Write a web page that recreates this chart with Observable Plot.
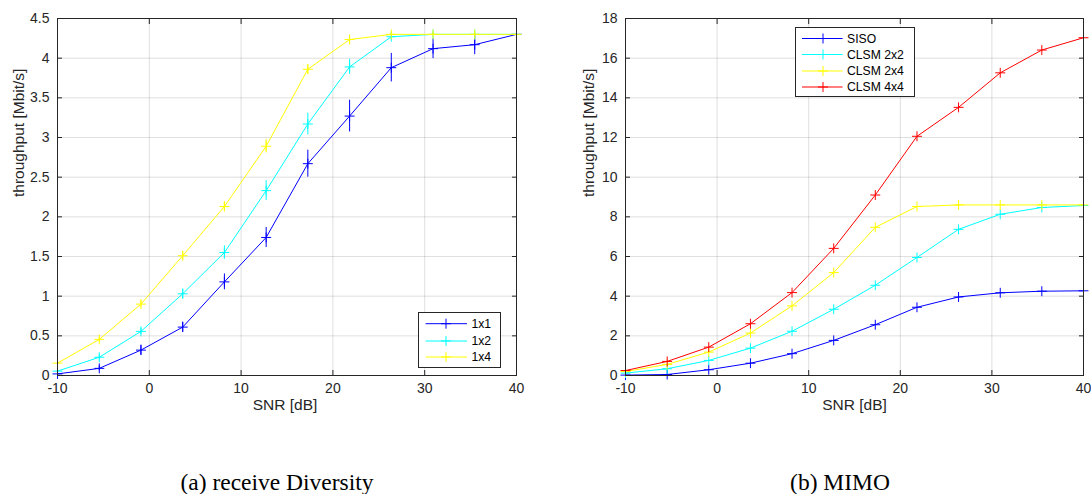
<!DOCTYPE html>
<html><head><meta charset="utf-8">
<script src="https://cdn.jsdelivr.net/npm/d3@7"></script>
<script src="https://cdn.jsdelivr.net/npm/@observablehq/plot@0.6"></script>
<style>
body{margin:0;background:#fff;}
#wrap{position:relative;width:1091px;height:494px;overflow:hidden;background:#fff;}
.panel{position:absolute;top:0;}
.legend{position:absolute;overflow:visible;}
.cap{position:absolute;font-family:"Liberation Serif","Times New Roman",serif;font-size:23.5px;color:#000;white-space:nowrap;transform:translate(-50%,-50%);}
</style></head><body>
<div id="wrap"></div>
<script>
// ---------- data ----------
const snr = [-10, -5.45, -0.91, 3.64, 8.18, 12.73, 17.27, 21.82, 26.36, 30.91, 35.45, 40];

// (a) receive diversity: mean throughput [Mbit/s] and error half-widths
const div1x1 = [0.02, 0.09, 0.32, 0.61, 1.18, 1.74, 2.67, 3.27, 3.88, 4.12, 4.17, 4.30];
const div1x2 = [0.055, 0.23, 0.556, 1.03, 1.55, 2.33, 3.17, 3.89, 4.27, 4.30, 4.30, 4.30];
const div1x4 = [0.156, 0.455, 0.90, 1.51, 2.13, 2.89, 3.86, 4.235, 4.30, 4.30, 4.30, 4.30];
const err1x1 = [0.03, 0.03, 0.063, 0.063, 0.10, 0.126, 0.17, 0.20, 0.18, 0.126, 0.126, 0.02];
const err1x2 = [0.02, 0.03, 0.04, 0.06, 0.085, 0.126, 0.137, 0.095, 0.04, 0.02, 0.02, 0.02];
const err1x4 = [0.02, 0.03, 0.04, 0.05, 0.06, 0.085, 0.06, 0.03, 0.02, 0.02, 0.02, 0.02];
const divNames = ["1x1", "1x2", "1x4"];

// (b) MIMO
const siso   = [0.02, 0.05, 0.29, 0.62, 1.10, 1.77, 2.56, 3.44, 3.96, 4.17, 4.25, 4.27];
const clsm22 = [0.12, 0.34, 0.76, 1.38, 2.23, 3.34, 4.55, 5.95, 7.37, 8.13, 8.47, 8.57];
const clsm24 = [0.20, 0.56, 1.18, 2.14, 3.51, 5.19, 7.47, 8.52, 8.60, 8.60, 8.60, 8.60];
const clsm44 = [0.25, 0.71, 1.43, 2.61, 4.18, 6.41, 9.10, 12.06, 13.52, 15.26, 16.41, 17.03];
const mimoNames = ["SISO", "CLSM 2x2", "CLSM 2x4", "CLSM 4x4"];

const colors4 = ["#0000ff", "#00ffff", "#ffff00", "#ff0000"];
const xTicks = [-10, 0, 10, 20, 30, 40];
const yTicksA = [0, 0.5, 1, 1.5, 2, 2.5, 3, 3.5, 4, 4.5];
const yTicksB = [0, 2, 4, 6, 8, 10, 12, 14, 16, 18];
const xLabel = "SNR [dB]";
const yLabel = "throughput [Mbit/s]";
const captions = ["(a) receive Diversity", "(b) MIMO"];

// ---------- drawing ----------
const INK = "#262626";
function rowsOf(ys, es) { return snr.map((x, i) => ({x, y: ys[i], e: es ? es[i] : 0})); }

function panel({width, marginLeft, marginRight, yDomain, yTicks, series, ylabDx, xlabDx}) {
  const marks = [
    Plot.gridX(xTicks, {stroke: INK, strokeOpacity: 0.15}),
    Plot.gridY(yTicks, {stroke: INK, strokeOpacity: 0.15}),
  ];
  for (const s of series) {
    const rows = rowsOf(s.values, s.errors);
    if (s.errors) marks.push(Plot.ruleX(rows, {x: "x", y1: d => d.y - d.e, y2: d => d.y + d.e, stroke: s.color, strokeWidth: 1}));
    marks.push(Plot.line(rows, {x: "x", y: "y", stroke: s.color, strokeWidth: 1}));
    marks.push(Plot.dot(rows, {x: "x", y: "y", symbol: "plus", r: 3.3, stroke: s.color, fill: "none", strokeWidth: 1}));
  }
  marks.push(
    Plot.frame({stroke: INK, strokeWidth: 1}),
    Plot.axisX(xTicks, {anchor: "bottom", tickSize: -5, tickPadding: 13, label: null, tickFormat: d => String(d), stroke: INK, fill: INK}),
    Plot.axisX(xTicks, {anchor: "top", tickSize: -5, label: null, tickFormat: () => "", stroke: INK}),
    Plot.axisY(yTicks, {anchor: "left", tickSize: -5, tickPadding: 13, label: null, tickFormat: d => String(d), stroke: INK, fill: INK}),
    Plot.axisY(yTicks, {anchor: "right", tickSize: -5, label: null, tickFormat: () => "", stroke: INK}),
    Plot.text([yLabel], {frameAnchor: "left", dx: ylabDx, rotate: -90, text: d => d, fontSize: 15.5, fill: INK}),
    Plot.text([xLabel], {frameAnchor: "bottom", dy: 34, dx: xlabDx, text: d => d, fontSize: 15.5, fill: INK})
  );
  return Plot.plot({
    width, height: 420, marginLeft, marginRight, marginTop: 18, marginBottom: 45,
    x: {type: "linear", domain: [-10, 40]},
    y: {type: "linear", domain: yDomain},
    style: {fontFamily: "'Liberation Sans', Arial, sans-serif", fontSize: "14px", color: INK, background: "transparent", overflow: "visible"},
    marks
  });
}

function legend(names, cols, {left, top, w, h, rowY, lineX0, lineX1, markX, textX}) {
  const svg = d3.create("svg").attr("class", "legend").attr("width", w + 1).attr("height", h + 1)
    .style("left", left + "px").style("top", top + "px");
  svg.append("rect").attr("x", 0.5).attr("y", 0.5).attr("width", w).attr("height", h)
    .attr("fill", "#fff").attr("stroke", INK).attr("stroke-width", 1);
  names.forEach((n, i) => {
    const y = rowY[i];
    svg.append("line").attr("x1", lineX0).attr("x2", lineX1).attr("y1", y).attr("y2", y).attr("stroke", cols[i]);
    svg.append("path").attr("d", `M${markX - 5},${y}H${markX + 5}M${markX},${y - 5}V${y + 5}`).attr("stroke", cols[i]).attr("fill", "none");
    svg.append("text").attr("x", textX).attr("y", y).attr("dy", "0.35em").text(n)
      .attr("font-family", "'Liberation Sans', Arial, sans-serif").attr("font-size", 12.2).attr("fill", "#000");
  });
  return svg.node();
}

const wrap = document.getElementById("wrap");

const pA = panel({
  width: 545, marginLeft: 57, marginRight: 29, yDomain: [0, 4.5], yTicks: yTicksA, ylabDx: -38.5, xlabDx: -2,
  series: [
    {values: div1x1, errors: err1x1, color: colors4[0]},
    {values: div1x2, errors: err1x2, color: colors4[1]},
    {values: div1x4, errors: err1x4, color: colors4[2]},
  ]
});
pA.classList.add("panel"); pA.style.left = "0px";
wrap.appendChild(pA);

const pB = panel({
  width: 546, marginLeft: 80, marginRight: 8, yDomain: [0, 18], yTicks: yTicksB, ylabDx: -36.3, xlabDx: 0,
  series: [
    {values: siso, color: colors4[0]},
    {values: clsm22, color: colors4[1]},
    {values: clsm24, color: colors4[2]},
    {values: clsm44, color: colors4[3]},
  ]
});
pB.classList.add("panel"); pB.style.left = "545px";
wrap.appendChild(pB);

wrap.appendChild(legend(divNames, colors4, {left: 418, top: 312, w: 82, h: 55, rowY: [11.7, 29, 45], lineX0: 7.6, lineX1: 49, markX: 28, textX: 53.5}));
wrap.appendChild(legend(mimoNames, colors4, {left: 795, top: 27, w: 119, h: 69, rowY: [11.5, 27.5, 44, 60], lineX0: 7, lineX1: 47.6, markX: 28, textX: 52}));

[[277, captions[0]], [840, captions[1]]].forEach(([cx, t]) => {
  const d = document.createElement("div");
  d.className = "cap"; d.textContent = t;
  d.style.left = cx + "px"; d.style.top = "482px";
  wrap.appendChild(d);
});
</script>
</body></html>
